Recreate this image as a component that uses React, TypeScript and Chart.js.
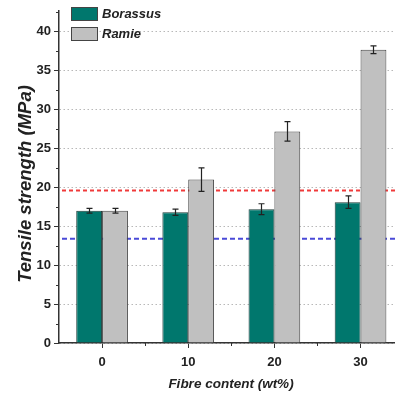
import React, { useEffect, useRef } from "react";
import { Chart, registerables } from "chart.js";

Chart.register(...registerables);

// Fibre content (wt%)
const fibreContent = [0, 10, 20, 30];
// Tensile strength (MPa) and standard deviations
const borassus = [17.0, 16.8, 17.2, 18.1];
const borassusErr = [0.3, 0.4, 0.7, 0.8];
const ramie = [17.0, 21.0, 27.2, 37.7];
const ramieErr = [0.3, 1.5, 1.25, 0.5];
// Reference strengths drawn as dashed lines
const refRed = 19.6;
const refBlue = 13.4;
const yTicks = [0, 5, 10, 15, 20, 25, 30, 35, 40];

const TEAL = "#00776d";
const GREY = "#c0c0c0";
const errors = [borassusErr, ramieErr];

const tickFont = "'Liberation Sans Narrow', 'Liberation Sans', Arial, sans-serif";
const titleFont = "'Liberation Sans', Arial, sans-serif";

const decorPlugin = {
  id: "decor",
  beforeDatasetsDraw(chart: any) {
    const { ctx, chartArea, scales } = chart;
    const y = scales.y;
    const lines = [
      { v: refRed, color: "#f03a3a", dash: [4, 3] },
      { v: refBlue, color: "#4a4ad8", dash: [5, 3] },
    ];
    ctx.save();
    for (const l of lines) {
      const py = y.getPixelForValue(l.v);
      ctx.strokeStyle = l.color;
      ctx.lineWidth = 2;
      ctx.setLineDash(l.dash);
      ctx.beginPath();
      ctx.moveTo(chartArea.left + 3, py);
      ctx.lineTo(chartArea.right, py);
      ctx.stroke();
    }
    ctx.restore();
  },
  afterDatasetsDraw(chart: any) {
    const { ctx, chartArea, scales } = chart;
    const x = scales.x;
    const y = scales.y;
    ctx.save();
    // error bars
    ctx.strokeStyle = "#222";
    ctx.lineWidth = 1.2;
    chart.data.datasets.forEach((ds: any, di: number) => {
      const meta = chart.getDatasetMeta(di);
      meta.data.forEach((bar: any, i: number) => {
        const v = ds.data[i].y;
        const e = errors[di][i];
        const top = y.getPixelForValue(v + e);
        const bot = y.getPixelForValue(v - e);
        const cx = Math.round(bar.x) + 0.5;
        ctx.beginPath();
        ctx.moveTo(cx, top);
        ctx.lineTo(cx, bot);
        ctx.moveTo(cx - 3, top);
        ctx.lineTo(cx + 3, top);
        ctx.moveTo(cx - 3, bot);
        ctx.lineTo(cx + 3, bot);
        ctx.stroke();
      });
    });
    // minor ticks
    ctx.strokeStyle = "#333";
    ctx.lineWidth = 1;
    for (let k = 0; k < yTicks.length; k++) {
      const mv = yTicks[k] + 2.5;
      const py = Math.round(y.getPixelForValue(mv)) + 0.5;
      if (py < chartArea.top) continue;
      ctx.beginPath();
      ctx.moveTo(chartArea.left, py);
      ctx.lineTo(chartArea.left - 3, py);
      ctx.stroke();
    }
    for (let k = 0; k < fibreContent.length; k++) {
      const mv = fibreContent[k] + 5;
      const px = Math.round(x.getPixelForValue(mv)) + 0.5;
      if (px > chartArea.right) continue;
      ctx.beginPath();
      ctx.moveTo(px, chartArea.bottom);
      ctx.lineTo(px, chartArea.bottom + 3);
      ctx.stroke();
    }
    // legend
    const items = [
      { label: "Borassus", color: TEAL, y: 7 },
      { label: "Ramie", color: GREY, y: 27 },
    ];
    ctx.font = `italic bold 13px ${titleFont}`;
    ctx.textBaseline = "middle";
    ctx.textAlign = "left";
    for (const it of items) {
      ctx.fillStyle = it.color;
      ctx.fillRect(71, it.y, 27, 14);
      ctx.strokeStyle = "#444";
      ctx.strokeRect(71.5, it.y + 0.5, 26, 13);
      ctx.fillStyle = "#222";
      ctx.fillText(it.label, 102, it.y + 7.5);
    }
    // axis titles
    ctx.fillStyle = "#222";
    ctx.textAlign = "center";
    ctx.font = `italic bold 13.5px ${titleFont}`;
    ctx.fillText("Fibre content (wt%)", 231, 384);
    ctx.save();
    ctx.translate(26, 184);
    ctx.rotate(-Math.PI / 2);
    ctx.font = `italic bold 18.5px ${titleFont}`;
    ctx.fillText("Tensile strength (MPa)", 0, 0);
    ctx.restore();
    ctx.restore();
  },
};

export default function App() {
  const ref = useRef<HTMLCanvasElement | null>(null);

  useEffect(() => {
    if (!ref.current) return;
    const chart = new Chart(ref.current, {
      type: "bar",
      data: {
        datasets: [
          {
            label: "Borassus",
            data: fibreContent.map((c, i) => ({ x: c, y: borassus[i] })),
            backgroundColor: TEAL,
            borderColor: "#1e3b38",
            borderWidth: 1,
            categoryPercentage: 0.6,
            barPercentage: 1,
          },
          {
            label: "Ramie",
            data: fibreContent.map((c, i) => ({ x: c, y: ramie[i] })),
            backgroundColor: GREY,
            borderColor: "#444",
            borderWidth: 1,
            categoryPercentage: 0.6,
            barPercentage: 1,
          },
        ],
      },
      options: {
        responsive: false,
        animation: false,
        layout: { padding: { top: 10, left: 0, right: 0, bottom: 0 } },
        plugins: {
          legend: { display: false },
          tooltip: { enabled: false },
        },
        scales: {
          x: {
            type: "linear",
            offset: false,
            min: -5,
            max: 34,
            afterBuildTicks: (s: any) => {
              s.ticks = fibreContent.map((v) => ({ value: v }));
            },
            afterFit: (s: any) => {
              s.height = 58;
            },
            grid: {
              offset: false,
              drawOnChartArea: false,
              drawTicks: true,
              tickLength: 5,
              tickColor: "#333",
              tickWidth: 1,
            },
            border: { display: true, color: "#333", width: 1.5 },
            ticks: {
              padding: 7,
              color: "#222",
              font: { family: tickFont, size: 13, weight: "bold" },
            },
          },
          y: {
            min: 0,
            max: 42.7,
            afterBuildTicks: (s: any) => {
              s.ticks = yTicks.map((v) => ({ value: v }));
            },
            afterFit: (s: any) => {
              s.width = 59;
            },
            grid: {
              color: "#b8b8b8",
              lineWidth: 1,
              drawTicks: true,
              tickLength: 5,
              tickColor: "#333",
              tickWidth: 1,
            },
            border: { display: true, color: "#333", width: 1.5, dash: [1.5, 2.5] },
            ticks: {
              padding: 3,
              color: "#222",
              font: { family: tickFont, size: 13, weight: "bold" },
            },
          },
        },
      },
      plugins: [decorPlugin],
    } as any);
    return () => chart.destroy();
  }, []);

  return (
    <div style={{ position: "fixed", left: 0, top: 0, width: 395, height: 401, background: "#fff" }}>
      <canvas ref={ref} width={395} height={401} style={{ display: "block" }} />
    </div>
  );
}
